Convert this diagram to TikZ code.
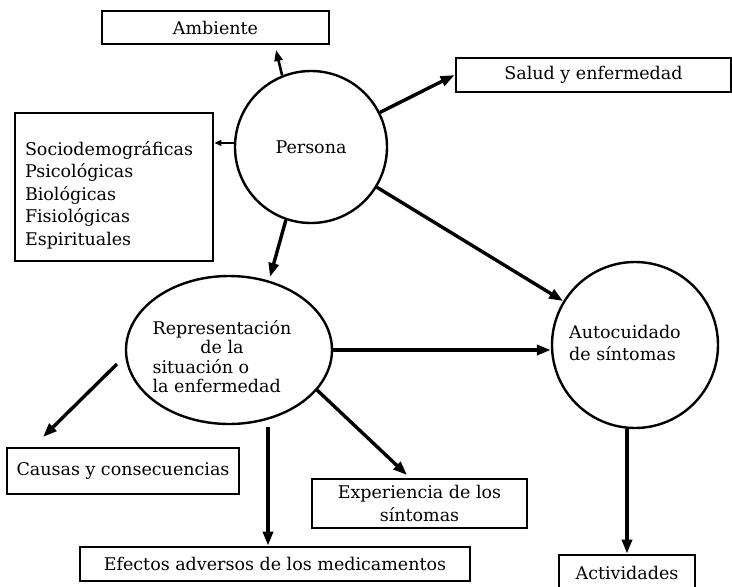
\documentclass[tikz,border=0pt]{standalone}
\usepackage{fontspec}
\setmainfont{DejaVu Serif}
\usetikzlibrary{arrows.meta,shapes.geometric}
\tikzset{
  caja/.style={draw, line width=2.8pt, inner sep=0pt},
  circulo/.style={draw, circle, line width=2.4pt, inner sep=0pt},
  flecha/.style={line width=3.4pt, -{Triangle[length=14pt,width=10pt]}},
}
\begin{document}
\begin{tikzpicture}[x=1pt, y=-1pt, font=\fontsize{17.5}{22.5}\selectfont]
\useasboundingbox (0,0) rectangle (732,587);
% nodos
\node[circulo, minimum size=152] (persona) at (311,147) {Persona};
\node[draw, ellipse, line width=2.4pt, minimum width=206, minimum height=148, inner sep=0pt,
  label={[xshift=-7pt, yshift=-9pt, font=\fontsize{17.5}{19}\selectfont]center:{\begin{tabular}{@{}l@{}}Representación\\\multicolumn{1}{@{}c@{}}{de la}\\situación o\\la enfermedad\end{tabular}}}]
  (repr) at (229,350) {};
\node[circulo, minimum size=166] (auto) at (635,345)
  {\raisebox{-4pt}{\begin{tabular}{@{}l@{}}Autocuidado\\de síntomas\end{tabular}}\kern20pt};
\node[caja, minimum width=227, minimum height=33] (ambiente) at (215.5,27.5) {Ambiente};
\node[caja, minimum width=275, minimum height=34] (salud) at (593.5,75) {Salud y enfermedad};
\node[caja, minimum width=198, minimum height=148, text width=178, align=left] (socio) at (114,187)
  {\rule{0pt}{30pt}Sociodemográficas\\Psicológicas\\Biológicas\\Fisiológicas\\Espirituales};
\node[caja, minimum width=232, minimum height=46] (causas) at (123,471) {Causas y consecuencias};
\node[caja, minimum width=390, minimum height=34] (efectos) at (275,564) {Efectos adversos de los medicamentos};
\node[caja, minimum width=215, minimum height=49, align=center] (experiencia) at (419.5,503.5)
  {\fontsize{17.5}{21}\selectfont Experiencia de los\\síntomas};
\node[caja, minimum width=136, minimum height=35] (actividades) at (627,572.5) {Actividades};
% puntos libres
\coordinate (amb-in) at (276,50);
\coordinate (repr-in) at (270,277);
\coordinate (cau-out) at (117,364);
\coordinate (cau-in) at (43,437);
\coordinate (efe-out) at (268,427);
\coordinate (exp-out) at (317,390);
\coordinate (exp-in) at (407,475);
% flechas
\draw[line width=2.6pt, -{Triangle[length=11pt,width=8pt]}] (persona.112) -- (amb-in);
\draw[flecha] (persona) -- (salud.west);
\draw[line width=1.3pt, -{Triangle[length=7pt,width=6pt]}] (persona.177) -- (persona.177 -| socio.east);
\draw[flecha] (persona.251) -- (repr-in);
\draw[flecha] (persona) -- (auto);
\draw[flecha] (repr) -- (repr -| auto.west);
\draw[flecha] (cau-out) -- (cau-in);
\draw[flecha] (efe-out) -- (efe-out |- efectos.north);
\draw[flecha] (exp-out) -- (exp-in);
\draw[flecha] (auto.south -| actividades.north) -- (actividades.north);
\end{tikzpicture}
\end{document}
